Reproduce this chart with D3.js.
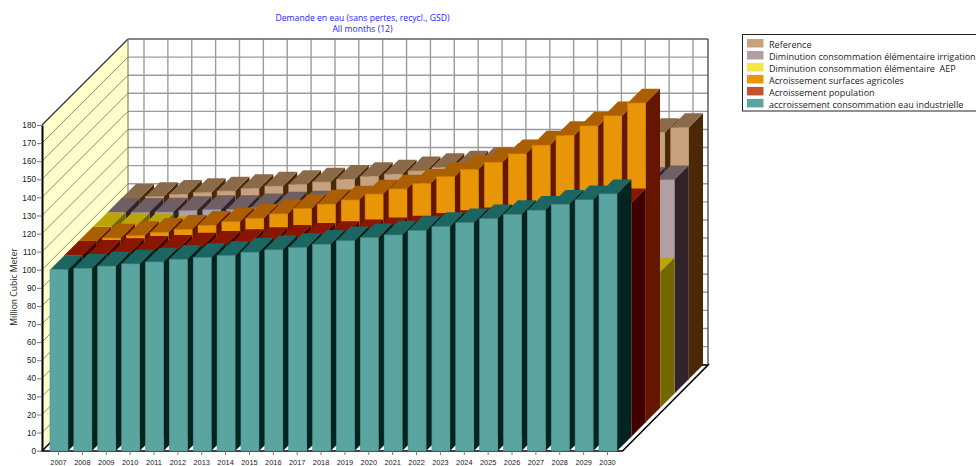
<!DOCTYPE html>
<html>
<head>
<meta charset="utf-8">
<script src="https://cdn.jsdelivr.net/npm/d3@7/dist/d3.min.js"></script>
<style>
  html, body { margin: 0; padding: 0; background: #fff; overflow: hidden; }
  svg { display: block; }
</style>
</head>
<body>
<svg id="chart" width="976" height="466"></svg>
<script>
// Annual water demand per scenario driver, million cubic metres.
const years = [2007, 2008, 2009, 2010, 2011, 2012, 2013, 2014, 2015, 2016, 2017, 2018,
               2019, 2020, 2021, 2022, 2023, 2024, 2025, 2026, 2027, 2028, 2029, 2030];

const industrie = [100, 100.8, 102, 103.2, 104.3, 105.8, 106.7, 107.8, 109.7, 111, 112.2, 114.1,
                   116, 117.7, 119.2, 121.6, 123.8, 126, 128.2, 130.5, 132.9, 136.2, 138.6, 141.9];
const population = [100.1, 100.6, 101.5, 102.8, 103.4, 104.6, 105.6, 106.5, 107.6, 108.9, 110, 111,
                    112, 113, 114, 115.5, 117, 118.5, 120, 122, 124, 125.5, 127, 129];
const surfaces = [100, 101.7, 103, 104.8, 106.5, 108.7, 110.7, 112.6, 115, 117.9, 120.4, 122.7,
                  126, 128.8, 131.9, 135.6, 139.7, 143.6, 148.2, 153, 158.3, 163.6, 169.2, 176.3];
const aep = [100, 99.6, 99.2, 98, 97, 96, 95, 93.8, 92.7, 91.6, 90.5, 89.4,
             88.3, 87.2, 86, 85, 84, 82.8, 81.7, 80.5, 79.3, 78, 76.5, 75];
const irrigation = [100, 100.1, 100.2, 101, 101.5, 101.6, 102.5, 103.5, 104, 104.8, 105.5, 106.3,
                    107, 107.8, 108.6, 109.5, 110.5, 111.5, 112.5, 113.5, 114.6, 115.8, 117, 118];
const reference = [99.9, 100.8, 102.1, 103, 103.9, 105.3, 106.6, 107.5, 108.9, 110.4, 111.9, 113.2,
                   115, 116.9, 118.3, 120.2, 122.3, 124.5, 126.6, 128.8, 131, 133.5, 136.2, 138.9];

const legendLabels = [
  "Reference",
  "Diminution consommation élémentaire irrigation",
  "Diminution consommation élémentaire  AEP",
  "Acroissement surfaces agricoles",
  "Acroissement population",
  "accroissement consommation eau industrielle"
];
const yTicks = d3.range(0, 190, 10);

// Front, top and side shades per series, listed back row first like the legend.
const shades = [
  { face: "#c8a27e", top: "#8a6a48", side: "#4b2906", edge: "#b08c68" },
  { face: "#b0a0a5", top: "#6e5f64", side: "#32232a", edge: "#998a8f" },
  { face: "#f5e642", top: "#b9a50a", side: "#746600", edge: "#d4c62c" },
  { face: "#e89607", top: "#ac5f00", side: "#661500", edge: "#cf8306" },
  { face: "#c5512e", top: "#8a1500", side: "#400000", edge: "#a8401f" },
  { face: "#5ba5a0", top: "#1b6662", side: "#00241f", edge: "#4c918c" }
];
const seriesValues = [reference, irrigation, aep, surfaces, population, industrie];

const svg = d3.select("#chart");
const frontLeft = 42, frontRight = 622.5, floorY = 451;

const y = d3.scaleLinear().domain([0, 180]).range([450.7, 125]);
const x = d3.scalePoint().domain(years).range([59, 608]);
const barWidth = x.step() * 0.755;

// Oblique projection: each series row pushes the bar up and to the right.
const depth = d3.scaleLinear().domain([0, seriesValues.length]).range([0, 86]);
const totalDepth = depth(seriesValues.length);
const poly = pts => pts.map(p => p.join(",")).join(" ");

// Back wall with its grid
const walls = svg.append("g");
walls.append("polygon")
  .attr("points", poly([[frontLeft + totalDepth, y(180) - totalDepth],
                        [frontRight + totalDepth - 0.5, y(180) - totalDepth],
                        [frontRight + totalDepth - 0.5, floorY - totalDepth],
                        [frontLeft + totalDepth, floorY - totalDepth]]))
  .attr("fill", "#fff");
walls.selectAll("line.h").data(yTicks).join("line")
  .attr("x1", frontLeft + totalDepth).attr("x2", frontRight + totalDepth - 0.5)
  .attr("y1", d => y(d) - totalDepth).attr("y2", d => y(d) - totalDepth)
  .attr("stroke", "#9c9c9c").attr("stroke-width", 1.4);
walls.selectAll("line.v").data(years).join("line")
  .attr("x1", d => x(d) - 1 + totalDepth).attr("x2", d => x(d) - 1 + totalDepth)
  .attr("y1", y(180) - totalDepth).attr("y2", floorY - totalDepth)
  .attr("stroke", "#9c9c9c").attr("stroke-width", 1.4);

// Left wall with its slanted grid
walls.append("polygon")
  .attr("points", poly([[frontLeft, y(180)], [frontLeft + totalDepth, y(180) - totalDepth],
                        [frontLeft + totalDepth, floorY - totalDepth], [frontLeft, floorY]]))
  .attr("fill", "#ffffcc");
walls.selectAll("line.d").data(yTicks.slice(1, -1)).join("line")
  .attr("x1", frontLeft).attr("y1", d => y(d))
  .attr("x2", frontLeft + totalDepth).attr("y2", d => y(d) - totalDepth)
  .attr("stroke", "#8e8e80").attr("stroke-width", 1);

// Wall outlines
const outline = [
  [[frontLeft, y(180)], [frontLeft + totalDepth, y(180) - totalDepth], "#333", 1.3],
  [[frontLeft + totalDepth, y(180) - totalDepth], [frontRight + totalDepth - 0.5, y(180) - totalDepth], "#777", 1.6],
  [[frontLeft + totalDepth, y(180) - totalDepth], [frontLeft + totalDepth, floorY - totalDepth], "#6f6f50", 1],
  [[frontRight + totalDepth - 0.5, y(180) - totalDepth], [frontRight + totalDepth - 0.5, floorY - totalDepth], "#444", 1.3]
];
walls.selectAll("line.o").data(outline).join("line")
  .attr("x1", d => d[0][0]).attr("y1", d => d[0][1])
  .attr("x2", d => d[1][0]).attr("y2", d => d[1][1])
  .attr("stroke", d => d[2]).attr("stroke-width", d => d[3]);

// Floor edges
const floor = svg.append("g");
floor.append("polygon")
  .attr("points", poly([[frontLeft, floorY], [frontLeft + totalDepth, floorY - totalDepth],
                        [frontRight + totalDepth - 0.5, floorY - totalDepth], [frontRight, floorY]]))
  .attr("fill", "#fff");
floor.append("path")
  .attr("d", `M${frontLeft},${floorY}L${frontLeft + totalDepth},${floorY - totalDepth}` +
             `H${frontRight + totalDepth - 0.5}L${frontRight},${floorY}Z`)
  .attr("fill", "none").attr("stroke", "#000").attr("stroke-width", 1.6);

// Bars: back row first, left to right inside each row, so nearer faces cover farther ones
const rows = svg.append("g");
seriesValues.forEach((values, s) => {
  const k = seriesValues.length - 1 - s;
  const d0 = depth(k), d1 = depth(k + 1);
  const shade = shades[s];
  const bar = rows.append("g").selectAll("g").data(years).join("g");
  const left = yr => x(yr) - barWidth / 2 + d0;
  const right = yr => x(yr) + barWidth / 2 + d0;
  const base = floorY - d0;
  const topY = (i) => y(values[i]) - d0;
  const step = d1 - d0;

  bar.append("polygon")
    .attr("points", (yr, i) => poly([[right(yr), topY(i)], [right(yr) + step, topY(i) - step],
                                     [right(yr) + step, base - step], [right(yr), base]]))
    .attr("fill", shade.side);
  bar.append("polygon")
    .attr("points", (yr, i) => poly([[left(yr), topY(i)], [left(yr) + step, topY(i) - step],
                                     [right(yr) + step, topY(i) - step], [right(yr), topY(i)]]))
    .attr("fill", shade.top);
  bar.append("rect")
    .attr("x", yr => left(yr))
    .attr("y", (yr, i) => topY(i))
    .attr("width", barWidth)
    .attr("height", (yr, i) => base - topY(i))
    .attr("fill", shade.face)
    .attr("stroke", shade.edge)
    .attr("stroke-width", 0.6);
});

// Axes on the front plane
const yAxis = svg.append("g")
  .attr("transform", `translate(${frontLeft},0)`)
  .call(d3.axisLeft(y).tickValues(yTicks).tickSize(5).tickPadding(1).tickSizeOuter(0));
yAxis.select(".domain").attr("stroke", "#000").attr("stroke-width", 2);
yAxis.selectAll(".tick line").attr("stroke", "#777");
yAxis.selectAll(".tick text")
  .attr("fill", "#222").attr("font-family", "Liberation Sans").attr("font-size", 8.2);

const xAxis = svg.append("g")
  .attr("transform", `translate(-1,${floorY})`)
  .call(d3.axisBottom(x).tickSize(4).tickPadding(4.5));
xAxis.select(".domain").remove();
xAxis.selectAll(".tick line").attr("stroke", "#777");
xAxis.selectAll(".tick text")
  .attr("fill", "#222").attr("font-family", "Liberation Sans").attr("font-size", 7.4);

svg.append("text")
  .attr("transform", "translate(17,287) rotate(-90)")
  .attr("text-anchor", "middle")
  .attr("font-family", "Open Sans").attr("font-size", 8.6)
  .attr("fill", "#222")
  .text("Million Cubic Meter");

// Title
const title = svg.append("g")
  .attr("font-family", "Open Sans").attr("font-size", 8.65)
  .attr("fill", "#1c1cff").attr("text-anchor", "middle");
title.append("text").attr("x", 362.5).attr("y", 21).text("Demande en eau (sans pertes, recycl., GSD)");
title.append("text").attr("x", 362.5).attr("y", 32).text("All months (12)");

// Legend
const legend = svg.append("g");
legend.append("rect")
  .attr("x", 742.5).attr("y", 34.5).attr("width", 260).attr("height", 76.5)
  .attr("fill", "#fff").attr("stroke", "#222").attr("stroke-width", 1);
const entry = legend.selectAll("g").data(legendLabels).join("g")
  .attr("transform", (d, i) => `translate(747,${39 + i * 11.98})`);
entry.append("rect")
  .attr("width", 16.5).attr("height", 8.5)
  .attr("fill", (d, i) => shades[i].face);
entry.append("text")
  .attr("x", 22).attr("y", 9)
  .attr("font-family", "Open Sans").attr("font-size", 9.05)
  .attr("fill", "#222")
  .style("white-space", "pre")
  .text(d => d);
</script>
</body>
</html>
